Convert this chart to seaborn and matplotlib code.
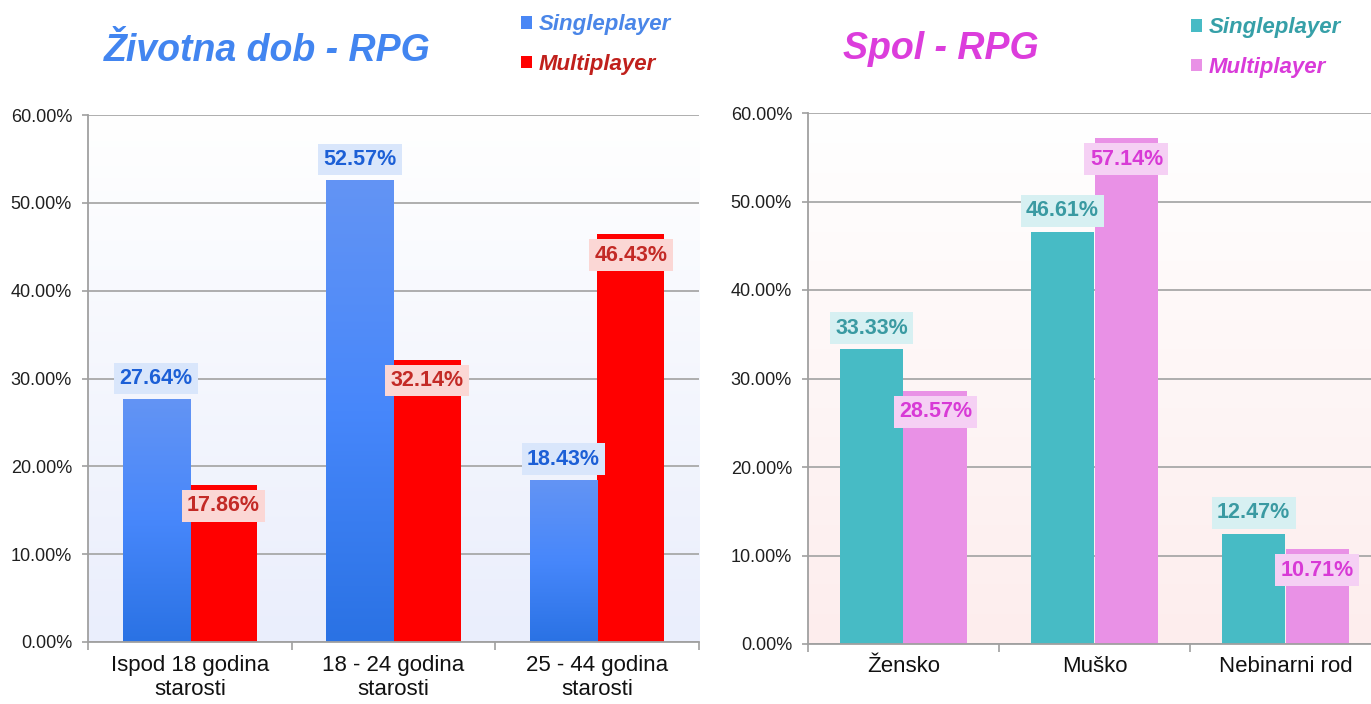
import matplotlib.pyplot as plt
import matplotlib.colors as mcolors
import numpy as np
import pandas as pd
import seaborn as sns
from matplotlib.ticker import FuncFormatter

# data
series = ["Singleplayer", "Multiplayer"]

age_groups = ["Ispod 18 godina\nstarosti", "18 - 24 godina\nstarosti", "25 - 44 godina\nstarosti"]
age_single = [27.64, 52.57, 18.43]
age_multi = [17.86, 32.14, 46.43]

genders = ["Žensko", "Muško", "Nebinarni rod"]
gender_single = [33.33, 46.61, 12.47]
gender_multi = [28.57, 57.14, 10.71]

W, H = 1371, 704


def make_df(cats, single, multi):
    return pd.DataFrame({
        "group": list(cats) * 2,
        "mode": [series[0]] * len(cats) + [series[1]] * len(cats),
        "value": list(single) + list(multi),
    })


def grad_img(stops):
    # stops: list of (pos, color) with pos 0 = top, 1 = bottom
    t = np.linspace(0, 1, 256)
    pos = [s[0] for s in stops]
    rgb = np.array([mcolors.to_rgb(s[1]) for s in stops])
    img = np.stack([np.interp(t, pos, rgb[:, i]) for i in range(3)], axis=-1)
    return img[:, None, :]


def draw_panel(ax, cats, single, multi, bar_colors, bar_width, bg_bottom,
               label_text, label_bg, single_grad=None):
    df = make_df(cats, single, multi)
    sns.barplot(data=df, x="group", y="value", hue="mode", order=cats,
                hue_order=series, palette=dict(zip(series, bar_colors)),
                width=bar_width, saturation=1, errorbar=None, ax=ax,
                edgecolor="none", linewidth=0)
    n = len(cats)
    xlim = (-0.5, n - 0.5)

    # plot area background gradient
    ax.imshow(grad_img([(0, "#ffffff"), (1, bg_bottom)]), extent=(xlim[0], xlim[1], 0, 60),
              aspect="auto", origin="upper", zorder=0, interpolation="bicubic")

    for k, (cont, vals) in enumerate(zip(ax.containers, [single, multi])):
        for p, v in zip(cont.patches, vals):
            x0, w, h = p.get_x(), p.get_width(), p.get_height()
            if k == 0 and single_grad is not None:
                ax.imshow(grad_img(single_grad), extent=(x0, x0 + w, 0, h), aspect="auto",
                          origin="upper", zorder=1.5, interpolation="bicubic")
            off = 15 if k == 0 else -15
            ax.annotate(f"{v:.2f}%", xy=(x0 + w / 2, h), xytext=(0, off),
                        textcoords="offset points", ha="center", va="center",
                        fontsize=15.5, fontweight="bold", color=label_text[k],
                        bbox=dict(boxstyle="square,pad=0.25", fc=label_bg[k], ec="none"),
                        zorder=6)

    ax.set_xlim(*xlim)
    ax.set_ylim(0, 60)
    ax.set_yticks(range(0, 61, 10))
    ax.yaxis.set_major_formatter(FuncFormatter(lambda v, _: f"{v:.2f}%"))
    ax.set_xticks(np.arange(-0.5, n, 1.0), minor=True)
    ax.set_xlabel("")
    ax.set_ylabel("")
    ax.set_axisbelow(True)
    ax.yaxis.grid(True, color="#a8a8a8", lw=1.3, zorder=0.5)
    ax.xaxis.grid(False)
    for s in ["top", "right"]:
        ax.spines[s].set_visible(False)
    for s in ["left", "bottom"]:
        ax.spines[s].set_color("#a0a0a0")
        ax.spines[s].set_linewidth(1.3)
    ax.tick_params(axis="y", which="major", left=True, length=4.5, width=1.2, color="#a0a0a0",
                   pad=7, labelsize=13, labelcolor="#1f1f1f")
    ax.tick_params(axis="x", which="major", bottom=True, length=0, pad=9, labelsize=16,
                   labelcolor="#111111")
    ax.tick_params(axis="x", which="minor", bottom=True, length=6, width=1.2, color="#a0a0a0")
    if ax.get_legend() is not None:
        ax.get_legend().remove()


def add_legend(fig, ax, anchor, colors):
    handles, labels = ax.get_legend_handles_labels()
    leg = fig.legend(handles[:2], labels[:2], loc="upper left", bbox_to_anchor=anchor,
                     bbox_transform=fig.transFigure, frameon=False, borderpad=0,
                     handlelength=0.5, handleheight=0.5, handletextpad=0.3,
                     labelspacing=0.85, prop=dict(size=16, weight="bold", style="italic"))
    for t, c in zip(leg.get_texts(), colors):
        t.set_color(c)


sns.set_theme(style="white")
plt.rcParams["font.family"] = ["Liberation Sans", "DejaVu Sans"]

fig = plt.figure(figsize=(W / 100, H / 100), dpi=100)
ax1 = fig.add_axes([88 / W, 1 - 642 / H, 611 / W, 527 / H])
ax2 = fig.add_axes([808 / W, 1 - 644 / H, 573 / W, 531 / H])

draw_panel(ax1, age_groups, age_single, age_multi,
           bar_colors=["#4a87f5", "#ff0000"], bar_width=0.66, bg_bottom="#eaeefc",
           label_text=["#1c5fd6", "#c32a26"], label_bg=["#d9e6fb", "#fbd7d5"],
           single_grad=[(0, "#6394f4"), (0.5, "#4787fb"), (1, "#2a72e4")])
draw_panel(ax2, genders, gender_single, gender_multi,
           bar_colors=["#47bbc5", "#e991e6"], bar_width=0.67, bg_bottom="#fdeded",
           label_text=["#3a9aa2", "#d83ad6"], label_bg=["#d7f0f2", "#f5d0f4"])

add_legend(fig, ax1, (510 / W, 1 - 3 / H), ["#4a86e8", "#c0201c"])
add_legend(fig, ax2, (1180 / W, 1 - 6 / H), ["#36a0a8", "#d93bd9"])

fig.text(267 / W, 1 - 61 / H, "Životna dob - RPG", ha="center", va="baseline",
         fontsize=27, fontstyle="italic", fontweight="bold", color="#4285f0")
fig.text(941 / W, 1 - 59 / H, "Spol - RPG", ha="center", va="baseline",
         fontsize=27, fontstyle="italic", fontweight="bold", color="#dc3ddc")

fig.savefig("out.png", dpi=100)
